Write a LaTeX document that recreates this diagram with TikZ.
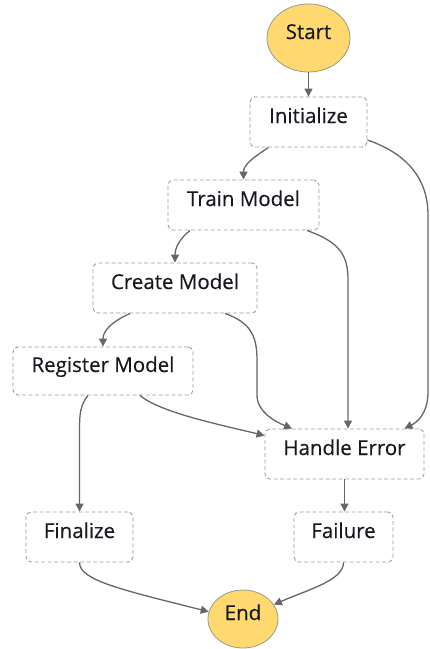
\documentclass[tikz,border=0pt]{standalone}
\usepackage{fontspec}
\setmainfont{Open Sans}
\newfontfamily\nodefont{Open Sans}[FakeBold=0.35]
\usetikzlibrary{shapes.geometric,arrows.meta}
\definecolor{yellowc}{HTML}{FFD970}
\definecolor{termdraw}{HTML}{9A9A8A}
\definecolor{boxdraw}{HTML}{9C9C9C}
\definecolor{edgec}{HTML}{666666}
\definecolor{textc}{HTML}{16191F}
\tikzset{
  stbox/.style={draw=boxdraw, line width=0.9pt, dash pattern=on 4pt off 2.5pt,
    rounded corners=5pt, minimum height=50pt, inner sep=0pt, text=textc,
    text height=15pt, text depth=13pt,
    font=\nodefont\fontsize{20.5}{22}\selectfont},
  term/.style={ellipse, draw=termdraw, line width=0.8pt, fill=yellowc, inner sep=0pt,
    text height=15pt, text depth=13pt,
    text=textc, font=\nodefont\fontsize{20.5}{22}\selectfont},
  conn/.style={draw=edgec, line width=1.3pt, -{Triangle[length=8pt,width=8pt]}},
}
\begin{document}
\begin{tikzpicture}[x=1pt,y=1pt]
\useasboundingbox (0,0) rectangle (430,-649);
\node[term, minimum width=83pt, minimum height=68pt] (start) at (308.5,-38) {Start};
\node[stbox, minimum width=117pt] (init) at (308.5,-122) {Initialize};
\node[stbox, minimum width=151pt] (train) at (243.5,-205) {Train Model};
\node[stbox, minimum width=164pt] (create) at (175,-288) {Create Model};
\node[stbox, minimum width=180pt, minimum height=48pt] (register) at (103,-371) {Register Model};
\node[stbox, minimum width=159pt] (handle) at (344.5,-454) {Handle Error};
\node[stbox, minimum width=107pt] (final) at (79.5,-537) {Finalize};
\node[stbox, minimum width=99pt] (failure) at (343.5,-537) {Failure};
\node[term, minimum width=70pt, minimum height=58pt] (end) at (243,-619) {End};

\draw[conn] (start.south) -- (init.north);
\draw[conn] ([xshift=-40pt]init.south) .. controls +(-15,-10) and +(0,15) .. (train.north);
\draw[conn] ([yshift=-18pt]init.east) .. controls +(35,-12) and +(0,40) .. (428,-215)
  -- (428,-392) .. controls +(0,-22) and +(12,6) .. ([xshift=60pt]handle.north);
\draw[conn] ([xshift=-53.5pt]train.south) .. controls +(-10,-8) and +(0,15) .. (create.north);
\draw[conn] ([xshift=63.5pt]train.south) .. controls +(33,-12) and +(0,25) .. (348,-280)
  -- ([xshift=3.5pt]handle.north);
\draw[conn] ([xshift=-45pt]create.south) .. controls +(-20,-9) and +(0,15) .. (register.north);
\draw[conn] ([xshift=50pt]create.south) .. controls +(25,-9) and +(0,25) .. (257,-360)
  -- (257,-395) .. controls +(0,-17) and +(-17,7) .. ([xshift=-52.5pt]handle.north);
\draw[conn] ([xshift=37pt]register.south) .. controls +(20,-17) and +(-45,11) .. ([yshift=-7pt]handle.north west);
\draw[conn] ([xshift=-15pt]register.south) .. controls +(-8,-10) and +(0,15) .. (79.5,-430)
  -- (final.north);
\draw[conn] (handle.south) -- (handle.south |- failure.north);
\draw[conn] (final.south) .. controls +(0,-18) and +(-87,22) .. (end.168);
\draw[conn] (failure.south) .. controls +(0,-18) and +(34,15) .. (end.25);
\end{tikzpicture}
\end{document}
